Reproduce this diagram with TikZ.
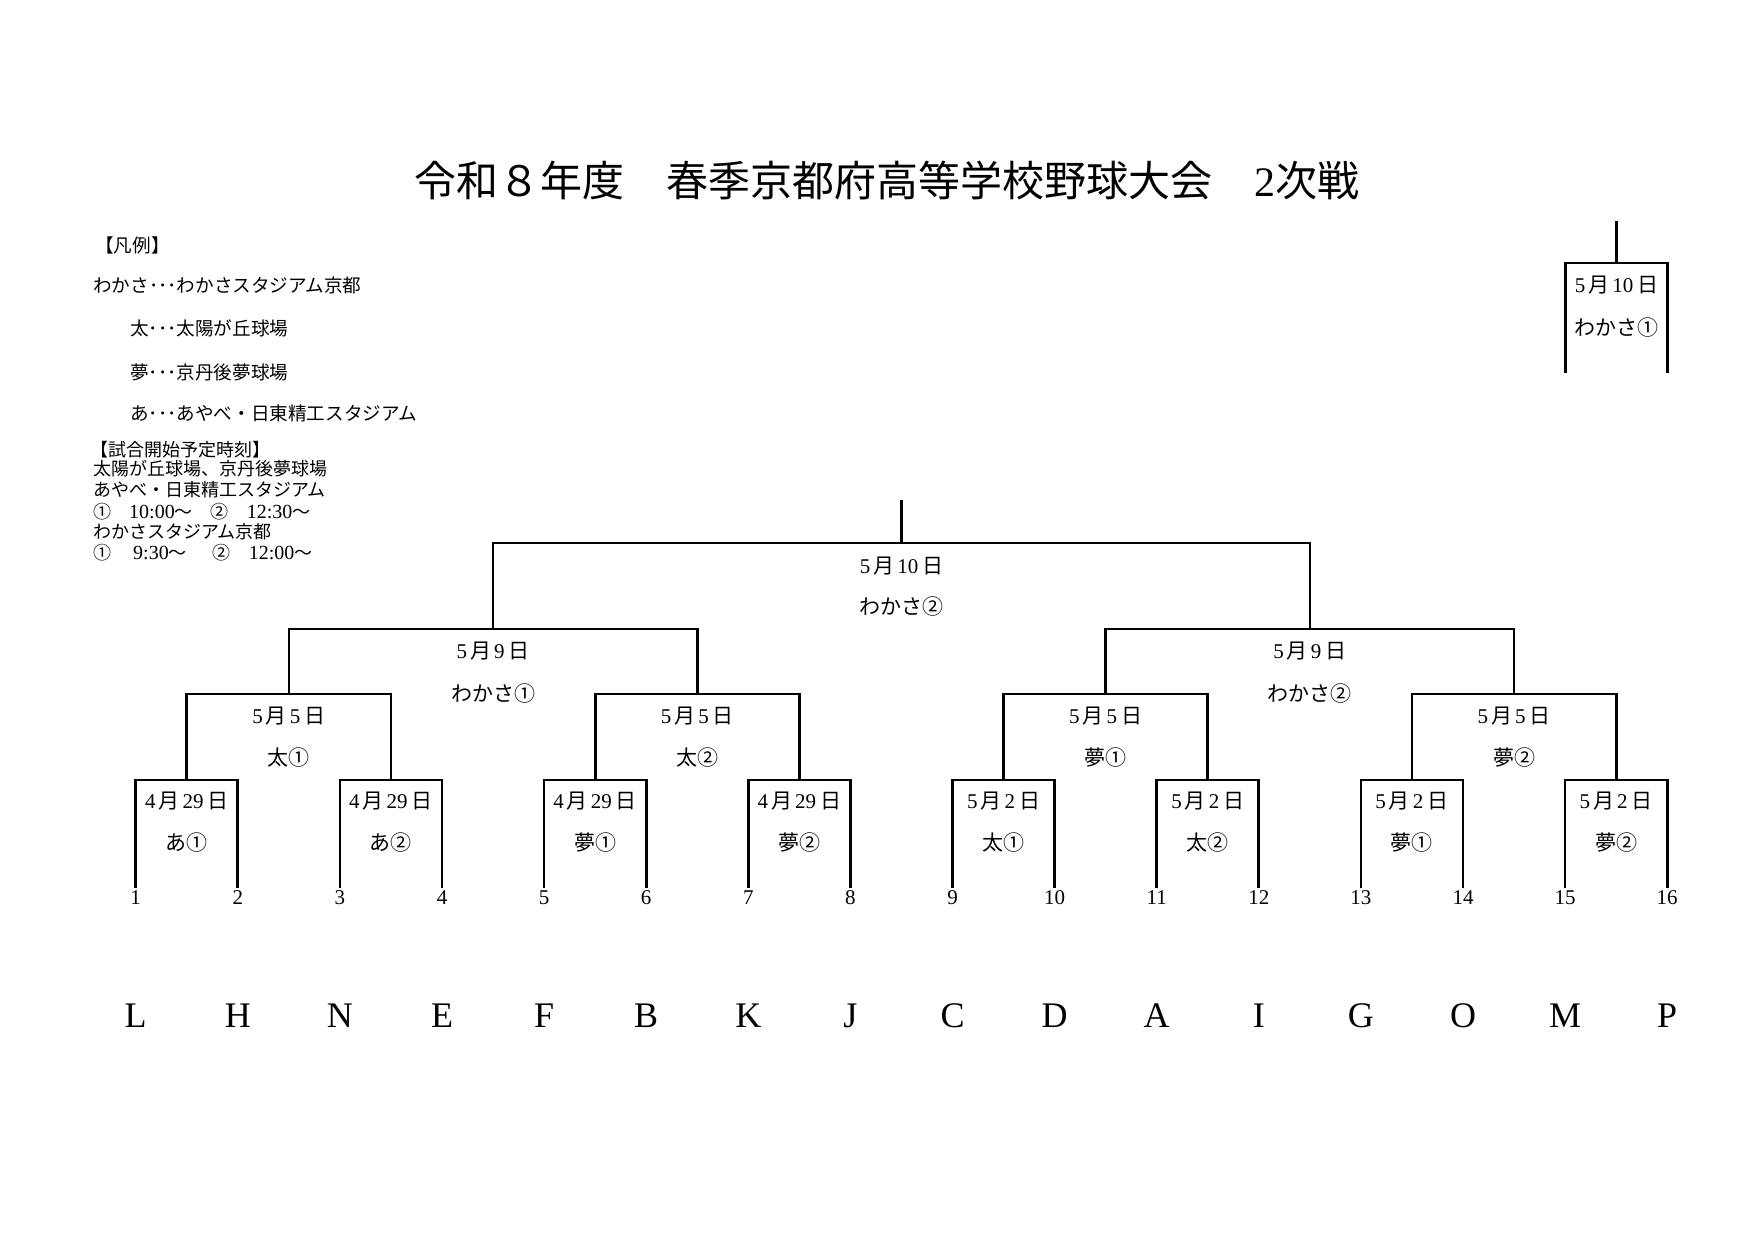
\documentclass[tikz,border=0pt]{standalone}
\usepackage{fontspec}
\setmainfont{Liberation Serif}
\newfontfamily\jp{Noto Sans CJK JP}
\newcommand\D[1]{{\rmfamily #1}}
\newcommand\Dt[1]{{\fontsize{20}{22}\selectfont\rmfamily #1}}
\newcommand\dt[2]{\D{#1}\hspace{3pt}{\jp 月}\hspace{3pt}\D{#2}\hspace{4pt}{\jp 日}}
\begin{document}
\begin{tikzpicture}[x=1pt,y=-1pt,
  br/.style={line width=2.7pt, line join=miter, line cap=rect},
  lab/.style={font=\fontsize{21}{25}\selectfont\jp, inner sep=0pt},
  num/.style={font=\fontsize{21}{25}\selectfont\rmfamily, inner sep=0pt},
  team/.style={font=\fontsize{36}{40}\selectfont\rmfamily, inner sep=0pt},
  leg/.style={font=\fontsize{18.6}{20}\selectfont\jp, anchor=west, inner sep=0pt},
  legs/.style={font=\fontsize{18}{20}\selectfont\jp, anchor=west, inner sep=0pt},
  ttl/.style={font=\fontsize{42}{46}\selectfont\jp, inner sep=0pt}]
\fill[white] (0,0) rectangle (1755,1240);
\useasboundingbox (0,0) rectangle (1755,1240);
% title
\node[ttl] (title) at (887,180) {令和８年度　春季京都府高等学校野球大会　\D{2}次戦};
% legend
\node[leg] (lg0) at (95,245) {【凡例】};
\node[leg] (lg1) at (93,285) {わかさ･･･わかさスタジアム京都};
\node[leg] (lg2) at (130,328) {太･･･太陽が丘球場};
\node[leg] (lg3) at (130,372) {夢･･･京丹後夢球場};
\node[leg] (lg4) at (130,413) {あ･･･あやべ・日東精工スタジアム};
\node[legs] (lg5) at (90,450) {【試合開始予定時刻】};
\node[legs] (lg6) at (93,469) {太陽が丘球場、京丹後夢球場};
\node[legs] (lg7) at (93,490) {あやべ・日東精工スタジアム};
\node[legs] (lg8) at (93,512) {①\hspace{18pt}\Dt{10:00}～\hspace{18pt}②\hspace{18pt}\Dt{12:30}～};
\node[legs] (lg9) at (93,532) {わかさスタジアム京都};
\node[legs] (lg10) at (93,553) {①\hspace{22pt}\Dt{9:30}～\hspace{26pt}②\hspace{18pt}\Dt{12:00}～};
% leaves
\foreach \i/\t [evaluate=\i as \x using 135.7+(\i-1)*102.1] in
  {1/L,2/H,3/N,4/E,5/F,6/B,7/K,8/J,9/C,10/D,11/A,12/I,13/G,14/O,15/M,16/P} {
  \coordinate (b\i) at (\x,887);
  \coordinate (t\i) at (\x,780);
  \node[num] (n\i) at (\x,898) {\i};
  \node[team] (tm\i) at (\x,1016) {\t};
}
% level 1
\foreach \k/\m/\d/\v [evaluate=\k as \x using 135.7+(2*\k-1.5)*102.1,
   evaluate=\k as \l using int(2*\k-1), evaluate=\k as \r using int(2*\k)] in
  {1/4/29/あ①,2/4/29/あ②,3/4/29/夢①,4/4/29/夢②,5/5/2/太①,6/5/2/太②,7/5/2/夢①,8/5/2/夢②} {
  \coordinate (pa\k) at (\x,780);
  \draw[br] (b\l) -- (t\l) -- (t\r) -- (b\r);
  \node[lab] (da\k) at (\x,801) {\dt{\m}{\d}};
  \node[lab] (va\k) at (\x,843) {\v};
}
% level 2
\foreach \k/\v [evaluate=\k as \x using 135.7+(4*\k-2.5)*102.1,
   evaluate=\k as \l using int(2*\k-1), evaluate=\k as \r using int(2*\k)] in
  {1/太①,2/太②,3/夢①,4/夢②} {
  \coordinate (pb\k) at (\x,694);
  \draw[br] (pa\l) |- (pb\k) -| (pa\r);
  \node[lab] (db\k) at (\x,716) {\dt{5}{5}};
  \node[lab] (vb\k) at (\x,758) {\v};
}
% level 3
\foreach \k/\v [evaluate=\k as \x using 135.7+(8*\k-4.5)*102.1,
   evaluate=\k as \l using int(2*\k-1), evaluate=\k as \r using int(2*\k)] in
  {1/わかさ①,2/わかさ②} {
  \coordinate (pc\k) at (\x,629);
  \draw[br] (pb\l) |- (pc\k) -| (pb\r);
  \node[lab] (dc\k) at (\x,651) {\dt{5}{9}};
  \node[lab] (vc\k) at (\x,694) {\v};
}
% level 4
\coordinate (pd) at (901.5,543);
\coordinate (pdt) at (901.5,501);
\draw[br] (pc1) |- (pd) -| (pc2);
\draw[br] (pd) -- (pdt);
\node[lab] (dd) at (901.5,566) {\dt{5}{10}};
\node[lab] (vd) at (901.5,607) {わかさ②};
% top right box
\coordinate (rl) at (1565.6,263);
\coordinate (rr) at (1667.7,263);
\coordinate (rlb) at (1565.6,372);
\coordinate (rrb) at (1667.7,372);
\coordinate (rm) at (1616.6,263);
\coordinate (rmt) at (1616.6,222);
\draw[br] (rlb) -- (rl) -- (rr) -- (rrb);
\draw[br] (rm) -- (rmt);
\node[lab] (re) at (1616.6,285) {\dt{5}{10}};
\node[lab] (rv) at (1616.6,328) {わかさ①};
\end{tikzpicture}
\end{document}
